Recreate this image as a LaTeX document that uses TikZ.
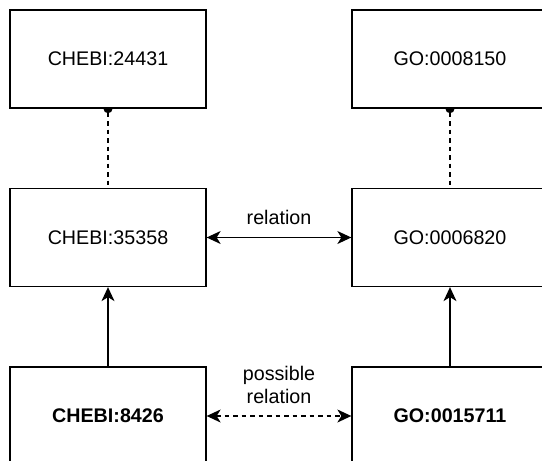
\documentclass[tikz,border=0pt]{standalone}
\usepackage{fontspec}
\setmainfont{Liberation Sans}
\usetikzlibrary{arrows.meta,backgrounds}
\tikzset{
  head/.tip={Stealth[length=14pt,width=13pt,inset=4pt]},
  dot/.tip={Circle[length=9pt]},
  term/.style={draw,line width=1.3pt,fill=white,minimum width=196pt,minimum height=98pt,inner sep=0pt},
  link/.style={line width=1.3pt},
  maybe/.style={link,dash pattern=on 4.5pt off 4pt},
}
\begin{document}
\begin{tikzpicture}[x=1pt,y=-1pt,font=\fontsize{19.7}{23}\selectfont]
  \useasboundingbox (0,0) rectangle (542,461);
  \matrix [column sep={342pt,between origins},row sep={178.5pt,between origins},nodes=term] at (279,237.5)
  {
    \node (chebiT) {CHEBI:24431};          & \node (goT) {GO:0008150}; \\
    \node (chebiM) {CHEBI:35358};          & \node (goM) {GO:0006820}; \\
    \node (chebiB) {\textbf{CHEBI:8426}};  & \node (goB) {\textbf{GO:0015711}}; \\
  };
  % is_a links, dot hidden half behind the upper box
  \begin{scope}[on background layer]
    \draw [maybe,dot-,shorten <=-4.5pt] (chebiT.south) -- (chebiM.north);
    \draw [maybe,dot-,shorten <=-4.5pt] (goT.south) -- (goM.north);
  \end{scope}
  \draw [link,-head] (chebiB.north) -- (chebiM.south);
  \draw [link,-head] (goB.north) -- (goM.south);
  \draw [link,head-head] (chebiM.east) -- node [above=9pt] {relation} (goM.west);
  \draw [maybe,head-head] (chebiB.east) -- node [above=8pt,align=center] {possible\\relation} (goB.west);
\end{tikzpicture}
\end{document}
